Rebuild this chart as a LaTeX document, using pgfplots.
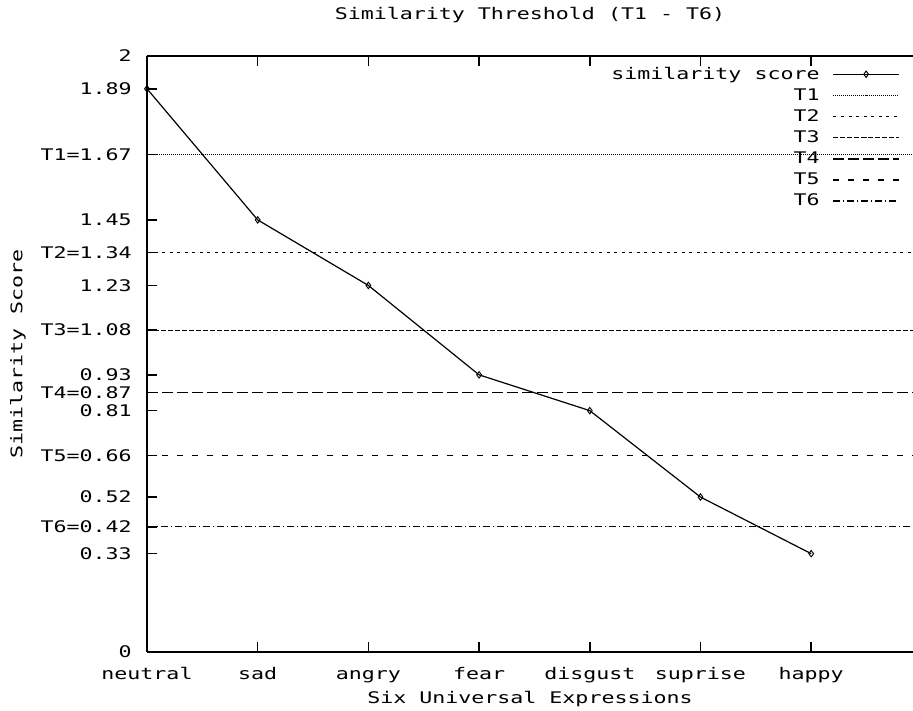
\documentclass[border=0pt]{standalone}
\usepackage{fontspec}
\setmainfont{DejaVu Sans Mono}[FakeStretch=1.35]
\usepackage{pgfplots}
\pgfplotsset{compat=1.18}

\newcommand{\gap}{\rule{8pt}{0pt}}

\begin{document}
\fontsize{12}{14}\selectfont
\begin{tikzpicture}
\begin{axis}[
  at={(0,0)}, anchor=origin,
  scale only axis,
  width=574.5pt, height=447pt,
  xmin=0, xmax=6.92,
  ymin=0, ymax=2,
  axis x line=box, axis y line=left,
  axis line style={line width=1.1pt, -},
  tick align=inside,
  major tick length=7.5pt,
  tick style={line width=1.1pt, black},
  xtick={0,1,2,3,4,5,6},
  xticklabels={neutral,sad,angry,fear,disgust,suprise,happy},
  ytick={0,0.33,0.42,0.52,0.66,0.81,0.87,0.93,1.08,1.23,1.34,1.45,1.67,1.89,2},
  yticklabels={0,0.33,T6=0.42,0.52,T5=0.66,0.81,T4=0.87,0.93,T3=1.08,1.23,T2=1.34,1.45,T1=1.67,1.89,2},
  xticklabel style={anchor=base, yshift=-20.25pt},
  yticklabel style={anchor=east, inner sep=0pt, xshift=-11.25pt},
  title={Similarity Threshold (T1 - T6)},
  title style={at={(0.5,1)}, anchor=base, yshift=21pt},
  xlabel={Six Universal Expressions},
  xlabel style={at={(0.5,0)}, anchor=base, yshift=-38.25pt},
  ylabel={Similarity Score},
  ylabel style={at={([xshift=-96.75pt]axis description cs:0,0.5)}, anchor=center},
  legend style={draw=none, fill=none, at={(1,1)}, anchor=north east,
    xshift=-8pt, yshift=-4pt, row sep=1.2pt, inner sep=2pt},
  legend cell align=right,
  legend plot pos=right,
  legend image code/.code={\draw[mark repeat=2,mark phase=2,#1]
    plot coordinates {(0pt,0pt) (24.5pt,0pt) (49pt,0pt)};},
  every axis plot/.append style={line width=0.9pt, black},
]
\addplot[mark=diamond, mark size=2.4pt, mark options={solid, fill=white, line width=0.7pt}]
  coordinates {(0,1.89) (1,1.45) (2,1.23) (3,0.93) (4,0.81) (5,0.52) (6,0.33)};
\addlegendentry{similarity score\gap}
\addplot[dash pattern=on 0.75pt off 0.75pt] coordinates {(0,1.67) (6.92,1.67)};
\addlegendentry{T1\gap}
\addplot[dash pattern=on 2.25pt off 3.4pt] coordinates {(0,1.34) (6.92,1.34)};
\addlegendentry{T2\gap}
\addplot[dash pattern=on 3.75pt off 1.5pt] coordinates {(0,1.08) (6.92,1.08)};
\addlegendentry{T3\gap}
\addplot[dash pattern=on 8.25pt off 3pt] coordinates {(0,0.87) (6.92,0.87)};
\addlegendentry{T4\gap}
\addplot[dash pattern=on 4.5pt off 6.75pt] coordinates {(0,0.66) (6.92,0.66)};
\addlegendentry{T5\gap}
\addplot[dash pattern=on 5.25pt off 2.25pt on 0.75pt off 2.25pt] coordinates {(0,0.42) (6.92,0.42)};
\addlegendentry{T6\gap}
\end{axis}
\pgfresetboundingbox
\path (-110.25pt,-43.5pt) rectangle (574.5pt,489pt);
\end{tikzpicture}
\end{document}
